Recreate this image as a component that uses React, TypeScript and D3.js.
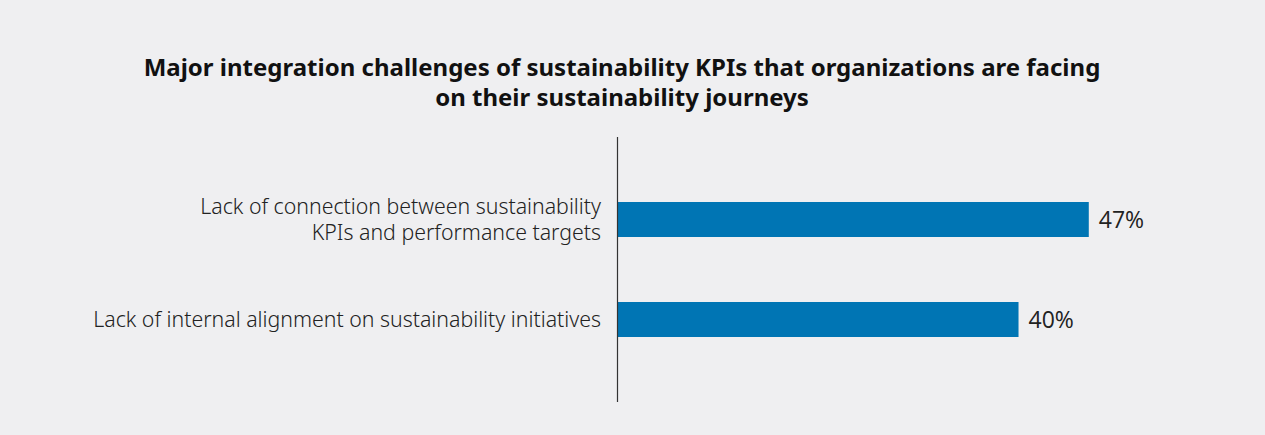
import React from "react";
import * as d3 from "d3";

const W = 1265;
const H = 435;

const titleLines = [
  "Major integration challenges of sustainability KPIs that organizations are facing",
  "on their sustainability journeys",
];
const categories = [
  ["Lack of connection between sustainability", "KPIs and performance targets"],
  ["Lack of internal alignment on sustainability initiatives"],
];
const values = [47, 40];

const BG = "#efeff1";
const BAR = "#0075b4";

export default function App() {
  const x = d3.scaleLinear().domain([0, 100]).range([617, 617 + 1003.8]);
  const y = d3
    .scaleBand<number>()
    .domain(values.map((_, i) => i))
    .range([137, 402])
    .paddingInner(0.65)
    .paddingOuter(0.65);
  const bw = y.bandwidth();
  const fmt = (v: number) => `${v}%`;

  return (
    <svg
      width={W}
      height={H}
      style={{ position: "fixed", left: 0, top: 0, display: "block" }}
    >
      <rect x={0} y={0} width={W} height={H} fill={BG} />
      <text
        fontFamily="Noto Sans, sans-serif"
        fontWeight={700}
        fontSize={24}
        fill="#111"
        textAnchor="middle"
      >
        {titleLines.map((t, i) => (
          <tspan key={i} x={622} y={76 + i * 30}>
            {t}
          </tspan>
        ))}
      </text>
      {values.map((v, i) => {
        const cy = (y(i) as number) + bw / 2;
        const lines = categories[i];
        const lh = 25.5;
        const y0 = cy - ((lines.length - 1) * lh) / 2;
        return (
          <g key={i}>
            <rect x={x(0)} y={y(i)} width={x(v) - x(0)} height={bw} fill={BAR} />
            <text
              x={x(v) + 10}
              y={cy}
              dy="0.37em"
              fontFamily="Open Sans, sans-serif"
              fontSize={23}
              fill="#222"
            >
              {fmt(v)}
            </text>
            <text
              textAnchor="end"
              fontFamily="Noto Sans, sans-serif"
              fontWeight={300}
              fontSize={21.3}
              fill="#222"
            >
              {lines.map((l, j) => (
                <tspan key={j} x={601} y={y0 + j * lh} dy="0.36em">
                  {l}
                </tspan>
              ))}
            </text>
          </g>
        );
      })}
      <line x1={617.5} x2={617.5} y1={137} y2={402} stroke="#333" strokeWidth={1.2} />
    </svg>
  );
}
